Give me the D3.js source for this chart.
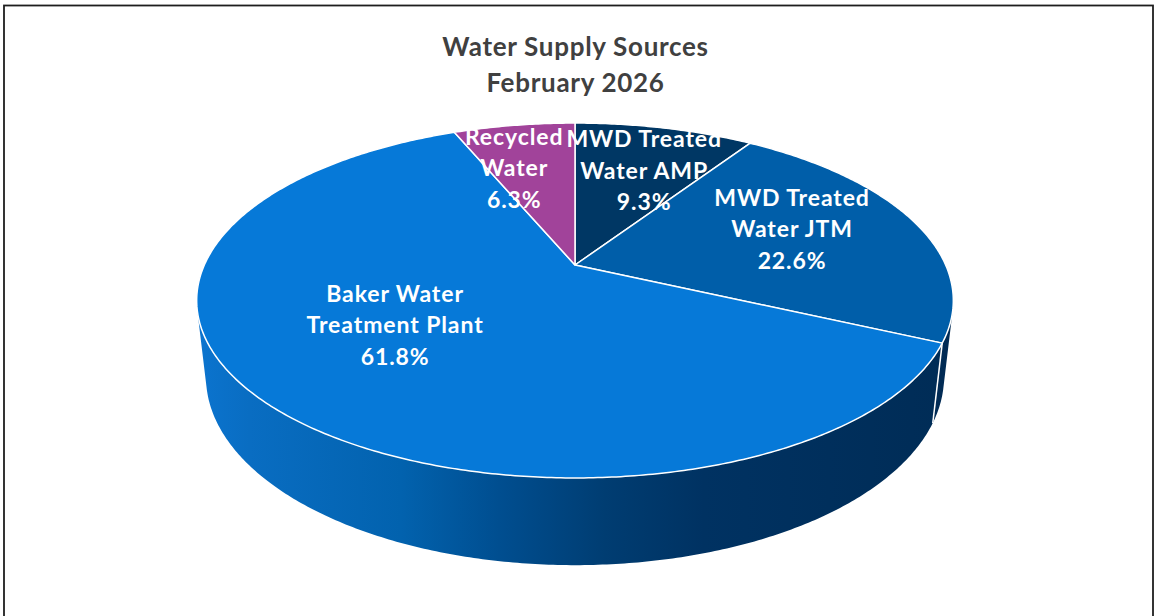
<!DOCTYPE html>
<html>
<head>
<meta charset="utf-8">
<script src="https://cdn.jsdelivr.net/npm/d3@7"></script>
<style>
  body { margin: 0; background: #fff; }
  text { font-family: Lato, "Open Sans", sans-serif; font-weight: bold; }
</style>
</head>
<body>
<svg id="chart" width="1155" height="616"></svg>
<script>
// slices, clockwise from 12 o'clock
const sources = ["MWD Treated Water AMP", "MWD Treated Water JTM", "Baker Water Treatment Plant", "Recycled Water"];
const shares = [9.3, 22.6, 61.8, 6.3];
const labelLines = [
  ["MWD Treated", "Water AMP"],
  ["MWD Treated", "Water JTM"],
  ["Baker Water", "Treatment Plant"],
  ["Recycled", "Water"]
];
const titleLines = ["Water Supply Sources", "February 2026"];

var topColor = ["#003764", "#005EA9", "#0679D8", "#A1439A"],
  wallColor = ["#002A50", "#012B55", "url(#bakerWall)", "#6e2a69"];

// excel puts the labels a bit off the mid angle, nudge per slice
var labelPlace = [{ r: 0.66, rot: 1.8 }, { r: 0.65, rot: -4 }, { r: 0.56, rot: 8 }, { r: 0.67, rot: -4.7 }];

var svg = d3.select("#chart"),
  width = +svg.attr("width"),
  height = +svg.attr("height");

// chart frame
svg.append("rect")
  .attr("x", 4).attr("y", 5.5)
  .attr("width", 1149).attr("height", 640)
  .attr("fill", "none")
  .attr("stroke", "#1e1e1e")
  .attr("stroke-width", 1.8);

// perspective camera looking down on the pie
var cx = 575, cy = 265,
  elev = 27.36 * Math.PI / 180,
  cosE = Math.cos(elev), sinE = Math.sin(elev),
  dist = 5 * cosE,
  focal = 1646,
  thick = 0.234;

function proj(a, r, w) {
  var u = r * Math.sin(a), v = r * Math.cos(a);
  var z = dist + v * cosE - w * sinE;
  return [cx + focal * u / z, cy - focal * (v * sinE + w * cosE) / z];
}

function arcPts(a0, a1, r, w) {
  var n = Math.max(2, Math.ceil(Math.abs(a1 - a0) / 0.01)), pts = [];
  for (var i = 0; i <= n; i++) pts.push(proj(a0 + (a1 - a0) * i / n, r, w));
  return pts;
}

var line = d3.line();
var pie = d3.pie().sort(null).value(d => d);
var arcs = pie(shares);

// outer wall is visible where it faces the camera
var vis = Math.acos(-1 / (dist * cosE));
var visLo = vis, visHi = 2 * Math.PI - vis;

var xs = arcPts(0, 2 * Math.PI, 1, 0).map(p => p[0]);
var defs = svg.append("defs");
var grad = defs.append("linearGradient")
  .attr("id", "bakerWall")
  .attr("gradientUnits", "userSpaceOnUse")
  .attr("x1", d3.min(xs)).attr("x2", d3.max(xs))
  .attr("y1", 0).attr("y2", 0);
[[0, "#0B74CF"], [0.07, "#096DC2"], [0.27, "#0262AE"], [0.4, "#004E90"],
 [0.54, "#003D72"], [0.67, "#003262"], [1, "#002C56"]].forEach(s => {
  grad.append("stop").attr("offset", s[0]).attr("stop-color", s[1]);
});

var walls = svg.append("g");
arcs.forEach((d, i) => {
  var a0 = Math.max(d.startAngle, visLo), a1 = Math.min(d.endAngle, visHi);
  if (a1 <= a0) return;
  var pts = arcPts(a0, a1, 1, 0).concat(arcPts(a1, a0, 1, -thick));
  walls.append("path")
    .attr("d", line(pts) + "Z")
    .attr("fill", wallColor[i]);
});
// white seams where slice edges meet the wall
arcs.forEach(d => {
  var a = d.startAngle;
  if (a > visLo && a < visHi) {
    walls.append("path")
      .attr("d", line([proj(a, 1, 0), proj(a, 1, -thick)]))
      .attr("stroke", "#fff").attr("stroke-width", 1.5);
  }
});

var tops = svg.append("g");
arcs.forEach((d, i) => {
  var pts = [proj(0, 0, 0)].concat(arcPts(d.startAngle, d.endAngle, 1, 0));
  tops.append("path")
    .attr("d", line(pts) + "Z")
    .attr("fill", topColor[i])
    .attr("stroke", "#fff")
    .attr("stroke-width", 1.5)
    .attr("stroke-linejoin", "round");
});

// data labels
var labels = svg.append("g");
arcs.forEach((d, i) => {
  var mid = (d.startAngle + d.endAngle) / 2 + labelPlace[i].rot * Math.PI / 180;
  var p = proj(mid, labelPlace[i].r, 0);
  var lines = labelLines[i].concat([d3.format(".1f")(shares[i]) + "%"]);
  var t = labels.append("text")
    .attr("text-anchor", "middle")
    .attr("fill", "#fff")
    .attr("font-size", 23)
    .attr("letter-spacing", 0.9);
  lines.forEach((s, k) => {
    t.append("tspan")
      .attr("x", p[0])
      .attr("y", p[1] + (k - 1) * 31.5)
      .attr("dy", "0.36em")
      .text(s);
  });
});

// title
svg.append("g").selectAll("text")
  .data(titleLines)
  .join("text")
  .attr("x", width / 2 - 2)
  .attr("y", (d, i) => 56 + i * 36)
  .attr("text-anchor", "middle")
  .attr("fill", "#404040")
  .attr("font-size", 26)
  .attr("letter-spacing", 0.7)
  .text(d => d);
</script>
</body>
</html>
